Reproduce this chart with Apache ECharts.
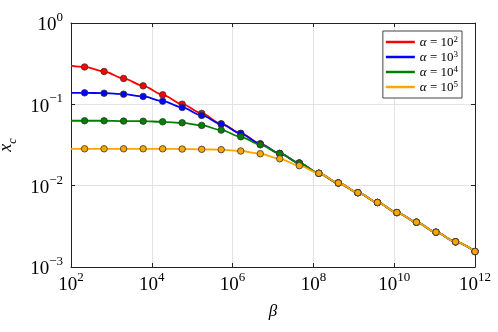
<!DOCTYPE html>
<html>
<head>
<meta charset="utf-8">
<script src="https://cdn.jsdelivr.net/npm/echarts@6/dist/echarts.min.js"></script>
<style>
  html, body { margin: 0; padding: 0; background: #fff; }
  #chart { width: 498px; height: 332px; }
</style>
</head>
<body>
<div id="chart"></div>
<script>
    // beta values of the marked points (the first entry, 1e2, is the unmarked start of the lines)
    var betas = [100, 217, 659, 2005, 6105, 18580, 56500, 1.718e5, 5.22e5, 1.59e6, 4.84e6,
        1.47e7, 4.48e7, 1.364e8, 4.15e8, 1.262e9, 3.84e9, 1.167e10, 3.55e10, 1.08e11, 3.29e11, 1e12];

    var alphaExps = [2, 3, 4, 5];
    var colors = ['#ff0000', '#0000ff', '#008000', '#ffa500'];

    // x_c
    var xc_a2 = [0.300, 0.288, 0.2535, 0.208, 0.1687, 0.131, 0.1005, 0.0773, 0.0577, 0.0440, 0.0327,
        0.0249, 0.01897, 0.01419, 0.01079, 0.0082, 0.00622, 0.00467, 0.00356, 0.00268, 0.00204, 0.00155];
    var xc_a3 = [0.1387, 0.1384, 0.1371, 0.1334, 0.125, 0.1094, 0.0916, 0.0731, 0.0571, 0.0437, 0.0325,
        0.0248, 0.01897, 0.01419, 0.01079, 0.0082, 0.00622, 0.00467, 0.00356, 0.00268, 0.00204, 0.00155];
    var xc_a4 = [0.0628, 0.0628, 0.0628, 0.0622, 0.0620, 0.0610, 0.0593, 0.0551, 0.0482, 0.0399, 0.0318,
        0.0249, 0.0190, 0.01419, 0.01079, 0.0082, 0.00622, 0.00467, 0.00356, 0.00268, 0.00204, 0.00155];
    var xc_a5 = [0.0284, 0.0284, 0.0284, 0.0284, 0.0284, 0.0284, 0.0282, 0.0280, 0.0277, 0.0267, 0.0247,
        0.0214, 0.0176, 0.0142, 0.01079, 0.0082, 0.00622, 0.00467, 0.00356, 0.00268, 0.00204, 0.00155];

    var allXc = [xc_a2, xc_a3, xc_a4, xc_a5];
    var serif = 'Liberation Serif';

    function supLabel(v) {
        var e = Math.round(Math.log10(v));
        var s = e < 0 ? '\u2212' + (-e) : '' + e;
        return '{b|10}{s|' + s + '}';
    }
    var labelRich = {
        b: { fontFamily: serif, fontSize: 19, color: '#000', lineHeight: 24, verticalAlign: 'bottom' },
        s: { fontFamily: serif, fontSize: 13, color: '#000', lineHeight: 13, verticalAlign: 'top' }
    };

    var series = [];
    alphaExps.forEach(function(a, k) {
        var data = betas.map(function(b, i) {
            var item = { value: [b, allXc[k][i]] };
            if (i === 0) item.symbol = 'none';
            return item;
        });
        series.push({
            name: 'a' + a,
            type: 'line',
            data: data,
            smooth: 0.3,
            smoothMonotone: 'x',
            symbol: 'circle',
            symbolSize: 6.5,
            color: colors[k],
            lineStyle: { color: colors[k], width: 1.8 },
            itemStyle: { color: colors[k], borderColor: '#333', borderWidth: 0.8 },
            z: 2 + k
        });
    });

    echarts.init(document.getElementById('chart'), null, { renderer: 'canvas' }).setOption({
        animation: false,
        backgroundColor: '#fff',
        grid: { left: 71, right: 23, top: 23, bottom: 65, outerBoundsMode: 'none' },
        legend: {
            right: 36,
            top: 31,
            orient: 'vertical',
            backgroundColor: '#fff',
            borderColor: '#444',
            borderWidth: 1,
            borderRadius: 0,
            padding: [4, 4, 4, 3],
            itemGap: 1,
            itemWidth: 29,
            itemHeight: 2.5,
            icon: 'rect',
            itemStyle: { borderWidth: 0 },
            data: alphaExps.map(function(a) { return 'a' + a; }),
            formatter: function(name) {
                return '{a|\u03b1}{t| = 10}{s|' + name.slice(1) + '}';
            },
            textStyle: {
                rich: {
                    a: { fontFamily: serif, fontStyle: 'italic', fontSize: 13, lineHeight: 14, verticalAlign: 'bottom', color: '#000' },
                    t: { fontFamily: serif, fontSize: 13, lineHeight: 14, verticalAlign: 'bottom', color: '#000' },
                    s: { fontFamily: serif, fontSize: 9, lineHeight: 9, verticalAlign: 'top', color: '#000' }
                }
            }
        },
        xAxis: [{
            type: 'log',
            logBase: 10,
            min: 100,
            max: 1e12,
            interval: 2,
            name: '\u03b2',
            nameLocation: 'middle',
            nameGap: 36,
            nameTextStyle: { fontFamily: serif, fontStyle: 'italic', fontSize: 17, color: '#000' },
            axisLine: { lineStyle: { color: '#222', width: 1 } },
            axisTick: { inside: true, length: 4, lineStyle: { color: '#222' } },
            minorTick: { show: false },
            splitLine: { show: true, lineStyle: { color: '#e3e3e3', width: 1 } },
            axisLabel: { margin: 4, formatter: supLabel, rich: labelRich }
        }, {
            type: 'log',
            logBase: 10,
            min: 100,
            max: 1e12,
            interval: 2,
            position: 'top',
            axisLine: { lineStyle: { color: '#222', width: 1 } },
            axisTick: { inside: true, length: 4, lineStyle: { color: '#222' } },
            splitLine: { show: false },
            axisLabel: { show: false }
        }],
        yAxis: [{
            type: 'log',
            logBase: 10,
            min: 0.001,
            max: 1,
            interval: 1,
            name: '{x|x}{c|c}',
            nameLocation: 'middle',
            nameGap: 52,
            nameRotate: 90,
            nameTextStyle: {
                rich: {
                    x: { fontFamily: serif, fontStyle: 'italic', fontSize: 18, lineHeight: 18, verticalAlign: 'top', color: '#000' },
                    c: { fontFamily: serif, fontStyle: 'italic', fontSize: 12, lineHeight: 22, verticalAlign: 'bottom', color: '#000' }
                }
            },
            axisLine: { lineStyle: { color: '#222', width: 1 } },
            axisTick: { inside: true, length: 4, lineStyle: { color: '#222' } },
            splitLine: { show: true, lineStyle: { color: '#e3e3e3', width: 1 } },
            axisLabel: { margin: 8, formatter: supLabel, rich: labelRich }
        }, {
            type: 'log',
            logBase: 10,
            min: 0.001,
            max: 1,
            interval: 1,
            position: 'right',
            axisLine: { lineStyle: { color: '#222', width: 1 } },
            axisTick: { inside: true, length: 4, lineStyle: { color: '#222' } },
            splitLine: { show: false },
            axisLabel: { show: false }
        }],
        series: series
    });
</script>
</body>
</html>
